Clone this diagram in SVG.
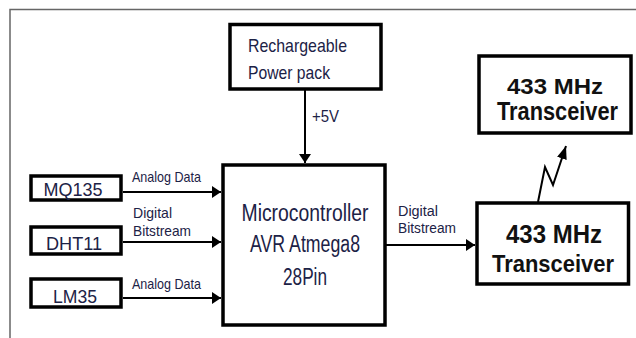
<svg xmlns="http://www.w3.org/2000/svg" width="636" height="338" viewBox="0 0 636 338">
  <style>
    .frame { stroke: #666; stroke-width: 1.5; fill: none; }
    .box { fill: #fff; stroke: #000; stroke-width: 3.5; }
    .conn { stroke: #000; stroke-width: 2; fill: none; }
    .lbl { font-family: "Liberation Sans", Arial, sans-serif; fill: #1c2246; }
    .big { font-family: "Liberation Sans", Arial, sans-serif; font-weight: bold; fill: #111; }
  </style>
  <defs>
    <marker id="arr" markerUnits="userSpaceOnUse" markerWidth="10" markerHeight="12" refX="9" refY="6" orient="auto">
      <path d="M0,0 L9,6 L0,12 z" fill="#000"/>
    </marker>
    <marker id="arrB" markerUnits="userSpaceOnUse" markerWidth="14" markerHeight="10" refX="13" refY="5" orient="auto">
      <path d="M0,0 L13,5 L0,10 z" fill="#000"/>
    </marker>
  </defs>
  <rect width="636" height="338" fill="#fff"/>
  <path class="frame" d="M10,338 L10,9.5 L636,9.5"/>

  <g id="connectors">
    <line class="conn" x1="305" y1="90" x2="305" y2="163" marker-end="url(#arr)"/>
    <line class="conn" x1="123" y1="192" x2="221" y2="192" marker-end="url(#arr)"/>
    <line class="conn" x1="123" y1="242" x2="221" y2="242" marker-end="url(#arr)"/>
    <line class="conn" x1="123" y1="298" x2="221" y2="298" marker-end="url(#arr)"/>
    <line class="conn" x1="386" y1="245" x2="475" y2="245" marker-end="url(#arr)"/>
    <path class="conn" stroke-width="2.5" d="M538,202 L545,167 L553,185 L566,146" marker-end="url(#arrB)"/>
    <text class="lbl" x="312" y="122" font-size="16" textLength="27" lengthAdjust="spacingAndGlyphs">+5V</text>
    <text class="lbl" x="132" y="182" font-size="15" textLength="69" lengthAdjust="spacingAndGlyphs">Analog Data</text>
    <text class="lbl" x="133" y="218" font-size="15" textLength="39" lengthAdjust="spacingAndGlyphs">Digital</text>
    <text class="lbl" x="133" y="236" font-size="15" textLength="58" lengthAdjust="spacingAndGlyphs">Bitstream</text>
    <text class="lbl" x="132" y="289" font-size="15" textLength="69" lengthAdjust="spacingAndGlyphs">Analog Data</text>
    <text class="lbl" x="398" y="216" font-size="14" textLength="40" lengthAdjust="spacingAndGlyphs">Digital</text>
    <text class="lbl" x="398" y="233" font-size="14" textLength="58" lengthAdjust="spacingAndGlyphs">Bitstream</text>
  </g>

  <g id="power">
    <rect class="box" x="230" y="24.5" width="151" height="64.5"/>
    <text class="lbl" x="248" y="52" font-size="19" textLength="99" lengthAdjust="spacingAndGlyphs">Rechargeable</text>
    <text class="lbl" x="248" y="79" font-size="19" textLength="82" lengthAdjust="spacingAndGlyphs">Power pack</text>
  </g>

  <g id="mcu">
    <rect class="box" x="223" y="165" width="162" height="160"/>
    <text class="lbl" x="305" y="221" font-size="23" text-anchor="middle" textLength="127" lengthAdjust="spacingAndGlyphs">Microcontroller</text>
    <text class="lbl" x="305" y="252" font-size="23" text-anchor="middle" textLength="110" lengthAdjust="spacingAndGlyphs">AVR Atmega8</text>
    <text class="lbl" x="305" y="285" font-size="23" text-anchor="middle" textLength="44" lengthAdjust="spacingAndGlyphs">28Pin</text>
  </g>

  <g id="mq135">
    <rect class="box" x="31" y="176" width="90" height="24"/>
    <text class="lbl" x="73" y="196" font-size="18" text-anchor="middle" textLength="59" lengthAdjust="spacingAndGlyphs">MQ135</text>
  </g>
  <g id="dht11">
    <rect class="box" x="31" y="227" width="90" height="27"/>
    <text class="lbl" x="74" y="250" font-size="19" text-anchor="middle" textLength="56" lengthAdjust="spacingAndGlyphs">DHT11</text>
  </g>
  <g id="lm35">
    <rect class="box" x="31" y="279" width="90" height="28"/>
    <text class="lbl" x="75" y="303" font-size="19" text-anchor="middle" textLength="44" lengthAdjust="spacingAndGlyphs">LM35</text>
  </g>

  <g id="tx-top">
    <rect class="box" x="479" y="56" width="152" height="77"/>
    <text class="big" x="555" y="94" font-size="22" text-anchor="middle" textLength="96" lengthAdjust="spacingAndGlyphs">433 MHz</text>
    <text class="big" x="557.5" y="120" font-size="25" text-anchor="middle" textLength="121" lengthAdjust="spacingAndGlyphs">Transceiver</text>
  </g>

  <g id="tx-bottom">
    <rect class="box" x="477" y="203" width="151.5" height="81"/>
    <text class="big" x="554" y="243" font-size="26" text-anchor="middle" textLength="96" lengthAdjust="spacingAndGlyphs">433 MHz</text>
    <text class="big" x="553" y="272" font-size="24" text-anchor="middle" textLength="122" lengthAdjust="spacingAndGlyphs">Transceiver</text>
  </g>
</svg>
